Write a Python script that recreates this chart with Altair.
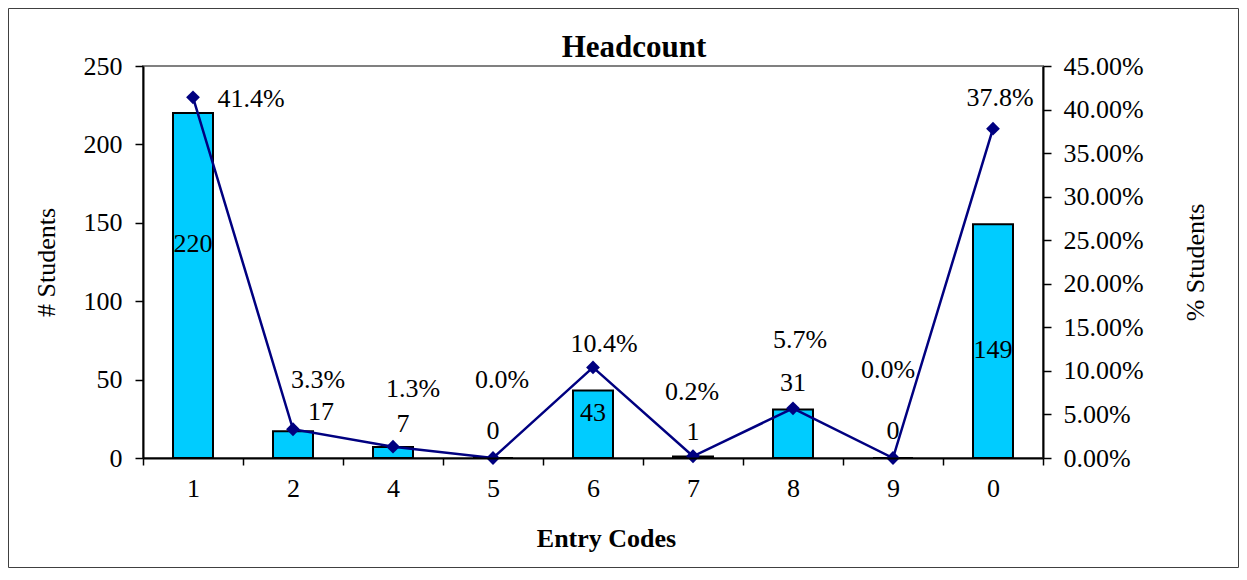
import json
import altair as alt
import pandas as pd

# ---- data ----
codes = ["1", "2", "4", "5", "6", "7", "8", "9", "0"]
students = [220, 17, 7, 0, 43, 1, 31, 0, 149]
pct_students = [41.4, 3.3, 1.3, 0.0, 10.4, 0.2, 5.7, 0.0, 37.8]

# label anchors (axis units)
count_label_at = [136.5, 29.3, 21.7, 17.2, 28.7, 16.6, 47.8, 17.2, 68.9]
count_label_shift = [0, 0.28, 0.1, 0, 0, 0, 0, 0, 0]
pct_label_at = [41.21, 8.95, 7.92, 8.95, 13.09, 7.58, 13.55, 10.1, 41.33]
pct_label_shift = [0.58, 0.25, 0.20, 0.09, 0.11, -0.01, 0.07, -0.05, 0.07]

title_text = "Headcount"

n = len(codes)
df = pd.DataFrame({
    "idx": list(range(n)),
    "code": codes,
    "students": students,
    "pct": [p / 100 for p in pct_students],
    "pct_text": [f"{p:.1f}%" for p in pct_students],
    "cx": [i + s for i, s in enumerate(count_label_shift)],
    "cy": count_label_at,
    "px": [i + s for i, s in enumerate(pct_label_shift)],
    "py": [p / 100 for p in pct_label_at],
})

FONT = "Liberation Serif"
NAVY = "#000080"

xscale = alt.Scale(domain=[-0.5, n - 0.5], nice=False, zero=False, padding=0)
yscale_l = alt.Scale(domain=[0, 250], nice=False, zero=True, padding=0)
yscale_r = alt.Scale(domain=[0, 0.45], nice=False, zero=True, padding=0)

label_expr = f"datum.value < {n - 1} ? {json.dumps(codes)}[round(datum.value + 0.5)] : ''"

xaxis = alt.Axis(
    values=[i - 0.5 for i in range(n + 1)],
    labelExpr=label_expr,
    labelOffset=50,
    labelOverlap=False,
    labelFlush=False,
    tickSize=7,
    labelPadding=10,
    titlePadding=24,
    titleX=463,
    titleAlign="center",
    titleFontWeight="bold",
    grid=False,
    zindex=1,
)

left_axis = alt.Axis(
    values=[0, 50, 100, 150, 200, 250],
    format="d",
    tickSize=8,
    labelPadding=13,
    titlePadding=24,
    titleFontWeight="normal",
    grid=False,
    zindex=1,
)

right_axis = alt.Axis(
    orient="right",
    values=[round(i * 0.05, 2) for i in range(10)],
    format=".2%",
    tickSize=8,
    labelPadding=12,
    titlePadding=65,
    titleAngle=270,
    titleFontWeight="normal",
    grid=False,
    zindex=1,
)

base = alt.Chart(df)

frame_data = alt.Data(values=[{"t": title_text}])

border = alt.Chart(frame_data).mark_rect(
    fill="transparent", stroke="#404040", strokeWidth=1
).encode(
    x=alt.value(-134.5), x2=alt.value(1095.5),
    y=alt.value(-57.5), y2=alt.value(501.5),
)

title_mark = alt.Chart(frame_data).mark_text(
    font=FONT, fontSize=31, fontWeight="bold", color="black",
    align="center", baseline="alphabetic",
).encode(
    x=alt.value(491), y=alt.value(-9), text="t:N",
)

bars = base.mark_bar(size=40, fill="#00CCFF", stroke="black", strokeWidth=2).encode(
    x=alt.X("idx:Q", scale=xscale, axis=xaxis, title="Entry Codes"),
    y=alt.Y("students:Q", scale=yscale_l, axis=left_axis, title="# Students"),
)

count_text = base.mark_text(font=FONT, fontSize=26, color="black", baseline="middle").encode(
    x=alt.X("cx:Q", scale=xscale),
    y=alt.Y("cy:Q", scale=yscale_l),
    text=alt.Text("students:Q"),
)

line = base.mark_line(color=NAVY, strokeWidth=2.5).encode(
    x=alt.X("idx:Q", scale=xscale),
    y=alt.Y("pct:Q", scale=yscale_r, axis=right_axis, title="% Students"),
)

points = base.mark_point(shape="diamond", filled=True, size=190, color=NAVY, opacity=1).encode(
    x=alt.X("idx:Q", scale=xscale),
    y=alt.Y("pct:Q", scale=yscale_r),
)

pct_text = base.mark_text(font=FONT, fontSize=26, color="black", baseline="middle").encode(
    x=alt.X("px:Q", scale=xscale),
    y=alt.Y("py:Q", scale=yscale_r),
    text=alt.Text("pct_text:N"),
)

left = alt.layer(bars, count_text)
right = alt.layer(line, points, pct_text)

chart = alt.layer(left, right, border, title_mark).resolve_scale(y="independent").properties(
    width=900,
    height=392,
    background="white",
    padding=0,
).configure_axis(
    labelFont=FONT, labelFontSize=26, labelColor="black",
    titleFont=FONT, titleFontSize=26, titleColor="black",
    domainColor="black", domainWidth=2,
    tickColor="black", tickWidth=1.5,
).configure_view(
    stroke="#808080", strokeWidth=2,
)

chart.save("out.html", embed_options={"renderer": "svg", "actions": False})
